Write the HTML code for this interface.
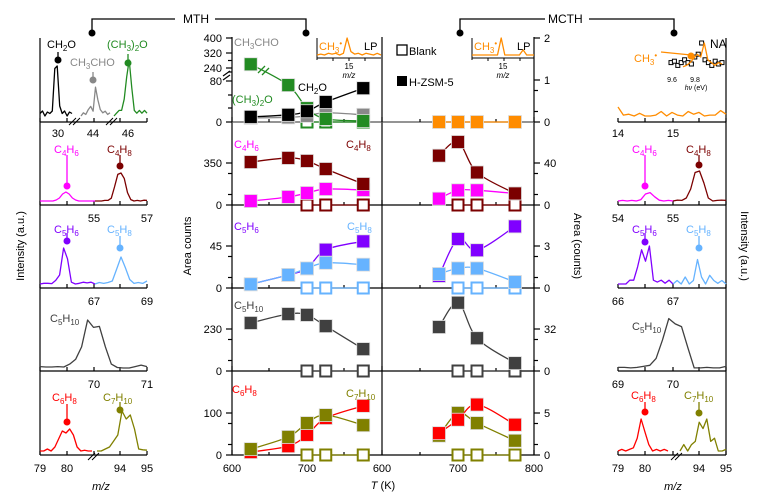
<!DOCTYPE html>
<html><head><meta charset="utf-8">
<style>
html,body{margin:0;padding:0;background:#fff;}
svg{display:block;font-family:"Liberation Sans",sans-serif;}
</style></head>
<body>
<svg id="fig" width="765" height="499" viewBox="0 0 765 499" xmlns="http://www.w3.org/2000/svg"></svg>
<script>
// ---------- DATA ----------
const tempsL=[625,675,700,725,775];
const tempsR=[675,700,725,775];
const tempsBlank=[700,725,775];
// MTH (left axis, Area counts)
const mthCH2O=[10,14,21,39,66];
const mthCH3CHO=[8,9,12,18,14];
const mthDME=[260,72,27,6,2];
const mthC4H8=[358,392,367,300,175];
const mthC4H6=[33,67,100,133,125];
const mthC5H6=[4,14,21,41,50];
const mthC5H8=[4,14,21,27,25];
const mthC5H10=[263,312,307,246,120];
const mthC6H8=[7,21,48,88,117];
const mthC7H10=[14,43,76,95,71];
// MCTH (right axis, Area counts)
const mcthCH3=[0,0,0,0];
const mcthC4H8=[47,60,31,11];
const mcthC4H6=[6,14,14,11];
const mcthC5H6=[0.86,3.5,2.7,4.4];
const mcthC5H8=[1.0,1.4,1.4,0.43];
const mcthC5H10=[33.5,52,25,6];
const mcthC6H8=[2.6,4.2,6.0,3.6];
const mcthC7H10=[2.3,5.0,3.8,1.7];
const blankVals=[0,0,0];
// axis ticks
const xTicksL=[600,700];
const xTicksR=[600,700,800];
const leftTickLabels=[["400","320","240","80","0"],["350","0"],["45","0"],["230","0"],["100","0"]];
const leftTickVals=[[400,320,240,80,0],[350,0],[45,0],[230,0],[100,0]];
const rightTickVals=[[2,1,0],[40,0],[3,0],[32,0],[5,0]];
// spectra intensities (relative)
const specL1a=[0.05,0.1,0.0,0.08,0.05,0.1,0.95,1,0.2,0.05,0.1,0.0,0.08,0.05];
const specL1b=[0,0.1,0.05,0.2,0.3,0.15,0.9,0.5,0.2,0.1,0.15,0.05,0.1];
const specL1c=[0,0.05,0.1,0.1,0.3,0.7,1,0.5,0.1,0.05,0.1,0.05,0.1,0.05];
const specL2a=[0,0,0,0,0,0.05,0.15,0.35,0.45,0.35,0.15,0.05,0,0,0,0,0,0];
const specL2b=[0,0,0,0.02,0.02,0.1,0.5,0.95,1,0.8,0.3,0.05,0,0.02,0,0.03,0.02];
const specL3a=[0,0.02,0.02,0.01,0.1,0.25,1,0.7,0.05,0,0.02,0.05,0.03,0.05,0];
const specL3b=[0,0.05,0.02,0.05,0.1,0.5,0.9,0.55,0.15,0.02,0.05,0.02,0.1];
const specL4=[0.05,0.04,0.04,0.05,0.04,0.1,0.2,0.45,1,0.85,0.87,0.45,0.1,0.03,0.02,0.02,0.05,0.08,0.05];
const specL5a=[0,0,0.05,0,0.1,0.3,0.5,0.45,0.55,0.4,0.1,0,0.02,0,0];
const specL5b=[0,0,0.05,0.1,0.25,0.4,1,0.8,0.9,0.55,0.05,0.03,0.02];
const specR1=[0.5,0.05,0.1,0,0.15,0,0,0.05,0.25,0,0.2,0.05,0,0.25,0.1,0.2,0,0.05,0.05,0.3,0.1];
const specR2a=[0,0.02,0,0.02,0,0.05,0.25,0.3,0.15,0.03,0,0.02,0];
const specR2b=[0,0.03,0.02,0.1,0.4,0.95,1,0.6,0.1,0,0.02,0.03,0.02];
const specR3a=[0,0,0,0.1,0.1,0.45,0.9,0.6,1,0.1,0.05,0.1,0.02,0.1,0];
const specR3b=[0,0.1,0,0.2,0,0.1,0.7,0.2,0,0.25,0.1,0.02,0.1,0];
const specR4=[0.03,0.03,0.02,0.03,0.05,0.07,0.2,0.55,0.95,0.85,0.8,0.4,0.02,0.02,0.03,0.02,0.02,0.05];
const specR5a=[0,0.05,0,0.05,0.1,0.4,1,0.6,0.2,0,0.05,0,0.05,0];
const specR5b=[0,0.2,0,0.2,0.3,0.9,0.7,1,0.3,0.4,0,0,0.05];
const lpL=[0,0.05,0,0.1,0.05,0.1,0,0.1,1,0.2,0.05,0.1,0,0.1,0.05,0,0.1,0];
const lpR=[0,0,0,0,0,0,0,0,1,0,0,0,0,0,0.3,0,0,0];
const naSquares=[0.3,0.35,0.2,0.3,0.4,0.3,0.25,0.5,0.6,1,0.4,0.3,0.2,0.35,0.25,0.3];
const naLine=[0.15,0.2,0.3,0.45,0.6,0.5,1,0.4,0.3,0.2,0.3,0.25];

// ---------- HELPERS ----------
const NS="http://www.w3.org/2000/svg";
const svg=document.getElementById('fig');
function mk(tag,attrs,parent){const e=document.createElementNS(NS,tag);for(const k in attrs)e.setAttribute(k,attrs[k]);(parent||svg).appendChild(e);return e;}
const Z=[122,205,288,371,455];
const scaleL=[80/41,350/42,45/42,230/42,100/42];
const scaleR=[1/42,40/42,3/42,32/42,5/42];
const xL=T=>232+(T-600)*0.75;
const xR=T=>382+(T-600)*0.76;
function yL(row,v){
  if(row===0){ if(v<=80) return 122-v*41/80; return 68-(v-240)*30/160; }
  return Z[row]-v/scaleL[row];
}
const yR=(row,v)=>Z[row]-v/scaleR[row];
function spline(pts,t){
  t=t||0.5;let d="M"+pts[0][0]+","+pts[0][1];
  for(let i=0;i<pts.length-1;i++){
    const p0=pts[i-1]||pts[i],p1=pts[i],p2=pts[i+1],p3=pts[i+2]||p2;
    const c1=[p1[0]+(p2[0]-p0[0])*t/3,p1[1]+(p2[1]-p0[1])*t/3];
    const c2=[p2[0]-(p3[0]-p1[0])*t/3,p2[1]-(p3[1]-p1[1])*t/3];
    d+=" C"+c1[0]+","+c1[1]+" "+c2[0]+","+c2[1]+" "+p2[0]+","+p2[1];
  }
  return d;
}
function text(x,y,str,opts,name){
  const e=mk('text',Object.assign({x:x,y:y,'font-size':11,fill:'#000'},opts||{}));
  e.innerHTML=str;
  
  
  return e;
}
function series(xs,vals,xf,yf,row,color,name){
  const g=mk('g',{});
  
  
  const pts=xs.map((T,i)=>[xf(T),yf(row,vals[i])]);
  const p=mk('path',{d:spline(pts),fill:'none',stroke:color,'stroke-width':1.3},g);
  
  
  pts.forEach(pt=>{
    const r=mk('rect',{x:pt[0]-6.5,y:pt[1]-6.5,width:13,height:13,fill:color,stroke:'#ddd','stroke-width':0.8},g);
    
    
  });
}
function blank(xs,xf,yf,row,color,name){
  const g=mk('g',{});
  
  
  const pts=xs.map((T,i)=>[xf(T),yf(row,blankVals[i])]);
  mk('path',{d:"M"+pts.map(p=>p.join(",")).join(" L"),fill:'none',stroke:color,'stroke-width':1.3},g);
  pts.forEach(pt=>{
    const r=mk('rect',{x:pt[0]-5.5,y:pt[1]-5.5,width:11,height:11,fill:'#fff',stroke:color,'stroke-width':2},g);
    
    
  });
}
function spec(x0,x1,base,amp,vals,color,name){
  const n=vals.length;
  const pts=vals.map((v,i)=>[(x0+(x1-x0)*i/(n-1)).toFixed(1),(base-amp*v).toFixed(1)]);
  const p=mk('polyline',{points:pts.map(p=>p.join(",")).join(" "),fill:'none',stroke:color,'stroke-width':1.3,'stroke-linejoin':'round'});
  
  
}
function marker(x,yTop,yDot,color,name){
  const g=mk('g',{});
  
  
  mk('line',{x1:x,y1:yTop,x2:x,y2:yDot,stroke:color,'stroke-width':1.3},g);
  mk('circle',{cx:x,cy:yDot,r:3.5,fill:color},g);
}

// ---------- BRACKETS ----------
const br=mk('g',{});


mk('path',{d:"M92,33 L92,19 L175,19 M215,19 L306,19 L306,33",fill:'none',stroke:'#000','stroke-width':1.3},br);
mk('circle',{cx:92,cy:33,r:3.5},br);mk('circle',{cx:306,cy:33,r:3.5},br);
text(183,23,"MTH",{'font-size':12},'mth-title');
const br2=mk('g',{});


mk('path',{d:"M460,33 L460,19 L545,19 M589,19 L674,19 L674,33",fill:'none',stroke:'#000','stroke-width':1.3},br2);
mk('circle',{cx:460,cy:33,r:3.5},br2);mk('circle',{cx:674,cy:33,r:3.5},br2);
text(548,23,"MCTH",{'font-size':12},'mcth-title');

// ---------- MIDDLE CHART FRAME ----------
const ax=mk('g',{stroke:'#000','stroke-width':1.2});


mk('line',{x1:232,y1:37,x2:232,y2:455},ax);
mk('line',{x1:382,y1:37,x2:382,y2:455},ax);
mk('line',{x1:534,y1:37,x2:534,y2:455},ax);
Z.forEach((z,i)=>mk('line',{x1:232,y1:z,x2:534,y2:z,stroke:i===0?'#555':'#000'},ax));
leftTickVals.forEach((arr,row)=>{
  arr.forEach((v,i)=>{
    const y=yL(row,v);
    mk('line',{x1:226,y1:y,x2:232,y2:y},ax);
    text(222,y+4,leftTickLabels[row][i],{'text-anchor':'end'},'y-tick-left');
  });
  if(row>0){[0.5,1.5].forEach(f=>{const y=Z[row]-f*21;mk('line',{x1:228,y1:y,x2:232,y2:y},ax);});}
});
[60.5,72,95,108].forEach(y=>mk('line',{x1:228,y1:y,x2:232,y2:y},ax));
mk('path',{d:"M223,76 L230,71 M223,80 L230,75",stroke:'#000',fill:'none'},ax);
rightTickVals.forEach((arr,row)=>{
  arr.forEach(v=>{
    const y=yR(row,v);
    mk('line',{x1:534,y1:y,x2:540,y2:y},ax);
    text(544,y+4,String(v),{},'y-tick-right');
  });
  [0.5,1.5].forEach(f=>{const y=Z[row]-f*21;mk('line',{x1:534,y1:y,x2:538,y2:y},ax);});
});
[232,306,382,458,534].forEach(x=>{Z.forEach(z=>{mk('line',{x1:x,y1:z,x2:x,y2:z-5},ax);});});
[269,344,420,496].forEach(x=>{Z.forEach(z=>mk('line',{x1:x,y1:z,x2:x,y2:z-3},ax));});
xTicksL.forEach(T=>text(xL(T),472,String(T),{'text-anchor':'middle'},'x-tick'));
xTicksR.forEach(T=>text(xR(T),472,String(T),{'text-anchor':'middle'},'x-tick'));
text(383,489,"<tspan font-style='italic'>T</tspan> (K)",{'text-anchor':'middle'},'x-axis-title');
text(0,0,"Area counts",{transform:'translate(191,246) rotate(-90)','text-anchor':'middle'},'y-axis-title-left');
text(0,0,"Area (counts)",{transform:'translate(574,246) rotate(90)','text-anchor':'middle'},'y-axis-title-right');
text(0,0,"Intensity (a.u.)",{transform:'translate(24,246) rotate(-90)','text-anchor':'middle'},'intensity-title-left');
text(0,0,"Intensity (a.u.)",{transform:'translate(741,246) rotate(90)','text-anchor':'middle'},'intensity-title-right');

// ---------- SERIES ----------
blank(tempsBlank,xL,yL,0,'#228b22','blank-dme-mth');
series(tempsL,mthCH3CHO,xL,yL,0,'#888','ch3cho-mth');
series(tempsL,mthDME,xL,yL,0,'#228b22','dme-mth');
series(tempsL,mthCH2O,xL,yL,0,'#000','ch2o-mth');
mk('path',{d:"M258,73 L265,66 M262,75 L269,68",stroke:'#228b22','stroke-width':1.3});
series(tempsR,mcthCH3,xR,yR,0,'#ff8c00','ch3-mcth');
blank(tempsBlank,xL,yL,1,'#7b0000','blank-c4-mth');
series(tempsL,mthC4H6,xL,yL,1,'#ff00ff','c4h6-mth');
series(tempsL,mthC4H8,xL,yL,1,'#7b0000','c4h8-mth');
blank(tempsBlank,xR,yR,1,'#7b0000','blank-c4-mcth');
series(tempsR,mcthC4H6,xR,yR,1,'#ff00ff','c4h6-mcth');
series(tempsR,mcthC4H8,xR,yR,1,'#7b0000','c4h8-mcth');
blank(tempsBlank,xL,yL,2,'#66b3ff','blank-c5-mth');
series(tempsL,mthC5H6,xL,yL,2,'#8000ff','c5h6-mth');
series(tempsL,mthC5H8,xL,yL,2,'#66b3ff','c5h8-mth');
blank(tempsBlank,xR,yR,2,'#66b3ff','blank-c5-mcth');
series(tempsR,mcthC5H6,xR,yR,2,'#8000ff','c5h6-mcth');
series(tempsR,mcthC5H8,xR,yR,2,'#66b3ff','c5h8-mcth');
blank(tempsBlank,xL,yL,3,'#404040','blank-c5h10-mth');
series(tempsL,mthC5H10,xL,yL,3,'#404040','c5h10-mth');
blank(tempsBlank,xR,yR,3,'#404040','blank-c5h10-mcth');
series(tempsR,mcthC5H10,xR,yR,3,'#404040','c5h10-mcth');
blank(tempsBlank,xL,yL,4,'#808000','blank-c67-mth');
series(tempsL,mthC6H8,xL,yL,4,'#ff0000','c6h8-mth');
series(tempsL,mthC7H10,xL,yL,4,'#808000','c7h10-mth');
blank(tempsBlank,xR,yR,4,'#808000','blank-c67-mcth');
series(tempsR,mcthC7H10,xR,yR,4,'#808000','c7h10-mcth');
series(tempsR,mcthC6H8,xR,yR,4,'#ff0000','c6h8-mcth');

text(234,46,"CH<tspan font-size='8' dy='3'>3</tspan><tspan dy='-3'>CHO</tspan>",{fill:'#888'},'label-ch3cho');
text(298,91,"CH<tspan font-size='8' dy='3'>2</tspan><tspan dy='-3'>O</tspan>",{},'label-ch2o');
text(232,103,"(CH<tspan font-size='8' dy='3'>3</tspan><tspan dy='-3'>)</tspan><tspan font-size='8' dy='3'>2</tspan><tspan dy='-3'>O</tspan>",{fill:'#228b22'},'label-dme');
text(234,148,"C<tspan font-size='8' dy='3'>4</tspan><tspan dy='-3'>H</tspan><tspan font-size='8' dy='3'>6</tspan>",{fill:'#ff00ff'},'label-c4h6');
text(346,148,"C<tspan font-size='8' dy='3'>4</tspan><tspan dy='-3'>H</tspan><tspan font-size='8' dy='3'>8</tspan>",{fill:'#7b0000'},'label-c4h8');
text(234,230,"C<tspan font-size='8' dy='3'>5</tspan><tspan dy='-3'>H</tspan><tspan font-size='8' dy='3'>6</tspan>",{fill:'#8000ff'},'label-c5h6');
text(347,230,"C<tspan font-size='8' dy='3'>5</tspan><tspan dy='-3'>H</tspan><tspan font-size='8' dy='3'>8</tspan>",{fill:'#66b3ff'},'label-c5h8');
text(234,309,"C<tspan font-size='8' dy='3'>5</tspan><tspan dy='-3'>H</tspan><tspan font-size='8' dy='3'>10</tspan>",{fill:'#404040'},'label-c5h10');
text(232,393,"C<tspan font-size='8' dy='3'>6</tspan><tspan dy='-3'>H</tspan><tspan font-size='8' dy='3'>8</tspan>",{fill:'#ff0000'},'label-c6h8');
text(346,397,"C<tspan font-size='8' dy='3'>7</tspan><tspan dy='-3'>H</tspan><tspan font-size='8' dy='3'>10</tspan>",{fill:'#808000'},'label-c7h10');

const lg=mk('g',{});


const lb=mk('rect',{x:397,y:45,width:10,height:10,fill:'#fff',stroke:'#000','stroke-width':1.3},lg);


text(409,55,"Blank",{},'legend-blank');
const lh=mk('rect',{x:397,y:76,width:10,height:10,fill:'#000'},lg);


text(409,86,"H-ZSM-5",{},'legend-hzsm5');

function lpInset(x0,x1,vals,peakX,name){
  const g=mk('g',{});
  
  
  mk('line',{x1:x0,y1:38,x2:x0,y2:60,stroke:'#000','stroke-width':1},g);
  mk('line',{x1:x0,y1:58,x2:x1,y2:58,stroke:'#000','stroke-width':1},g);
  [x0+16,x0+32,x0+48].forEach(x=>mk('line',{x1:x,y1:58,x2:x,y2:61,stroke:'#000'},g));
  spec(x0,x1,55,17,vals,'#ff8c00',name+'-trace');
  text(x0+2,50,"CH<tspan font-size='8' dy='3'>3</tspan><tspan font-size='8' dy='-7'>•</tspan>",{fill:'#ff8c00','font-size':11},name+'-label');
  text(x1-17,50,"LP",{'font-size':11},name+'-lp');
  text(peakX,69,"15",{'font-size':8,'text-anchor':'middle'},name+'-tick');
  text(peakX,78,"m/z",{'font-size':8,'font-style':'italic','text-anchor':'middle'},name+'-mz');
}
lpInset(317,381,lpL,349,'lp-inset-mth');
lpInset(472,534,lpR,503,'lp-inset-mcth');

// ---------- LEFT SPECTRA PANEL ----------
const sp=mk('g',{stroke:'#000','stroke-width':1.2});


mk('line',{x1:40,y1:38,x2:40,y2:455},sp);
Z.forEach(z=>mk('line',{x1:40,y1:z,x2:147,y2:z},sp));
[40,67,94,120,147].forEach(x=>Z.forEach(z=>mk('line',{x1:x,y1:z,x2:x,y2:z-4},sp)));
const sp2=mk('g',{stroke:'#000','stroke-width':1.2});


mk('line',{x1:726,y1:38,x2:726,y2:455},sp2);
Z.forEach(z=>mk('line',{x1:618,y1:z,x2:726,y2:z},sp2));
[618,645,673,699,726].forEach(x=>Z.forEach(z=>mk('line',{x1:x,y1:z,x2:x,y2:z-4},sp2)));

spec(40,72,116,50,specL1a,'#000','spec-ch2o');
spec(81,110,116,32,specL1b,'#888','spec-ch3cho');
spec(114,147,116,56,specL1c,'#228b22','spec-dme');
mk('path',{d:"M69,125 L76,118 M73,125 L80,118 M106,125 L113,118 M110,125 L117,118",stroke:'#000','stroke-width':1});
marker(58,52,60,'#000','marker-ch2o');marker(93,72,80,'#888','marker-ch3cho');marker(128,54,63,'#228b22','marker-dme');
text(47,48,"CH<tspan font-size='8' dy='3'>2</tspan><tspan dy='-3'>O</tspan>",{},'spec-label-ch2o');
text(70,66,"CH<tspan font-size='8' dy='3'>3</tspan><tspan dy='-3'>CHO</tspan>",{fill:'#888'},'spec-label-ch3cho');
text(107,48,"(CH<tspan font-size='8' dy='3'>3</tspan><tspan dy='-3'>)</tspan><tspan font-size='8' dy='3'>2</tspan><tspan dy='-3'>O</tspan>",{fill:'#228b22'},'spec-label-dme');
[[58,"30"],[93,"44"],[128,"46"]].forEach(a=>text(a[0],137,a[1],{'text-anchor':'middle'},'spec-tick'));

spec(40,95,201,20,specL2a,'#ff00ff','spec-c4h6');
spec(95,147,201,28,specL2b,'#7b0000','spec-c4h8');
marker(67,155,186,'#ff00ff','marker-c4h6');marker(120,155,166,'#7b0000','marker-c4h8');
text(54,153,"C<tspan font-size='8' dy='3'>4</tspan><tspan dy='-3'>H</tspan><tspan font-size='8' dy='3'>6</tspan>",{fill:'#ff00ff'},'spec-label-c4h6');
text(107,153,"C<tspan font-size='8' dy='3'>4</tspan><tspan dy='-3'>H</tspan><tspan font-size='8' dy='3'>8</tspan>",{fill:'#7b0000'},'spec-label-c4h8');
text(94,222,"55",{'text-anchor':'middle'},'spec-tick');text(147,222,"57",{'text-anchor':'middle'},'spec-tick');

spec(40,95,284,36,specL3a,'#8000ff','spec-c5h6');
spec(95,147,284,30,specL3b,'#66b3ff','spec-c5h8');
marker(67,233,241,'#8000ff','marker-c5h6');marker(120,236,248,'#66b3ff','marker-c5h8');
text(54,233,"C<tspan font-size='8' dy='3'>5</tspan><tspan dy='-3'>H</tspan><tspan font-size='8' dy='3'>6</tspan>",{fill:'#8000ff'},'spec-label-c5h6');
text(107,233,"C<tspan font-size='8' dy='3'>5</tspan><tspan dy='-3'>H</tspan><tspan font-size='8' dy='3'>8</tspan>",{fill:'#66b3ff'},'spec-label-c5h8');
text(94,305,"67",{'text-anchor':'middle'},'spec-tick');text(147,305,"69",{'text-anchor':'middle'},'spec-tick');

spec(40,147,369,49,specL4,'#404040','spec-c5h10');
text(50,322,"C<tspan font-size='8' dy='3'>5</tspan><tspan dy='-3'>H</tspan><tspan font-size='8' dy='3'>10</tspan>",{fill:'#404040'},'spec-label-c5h10');
text(94,388,"70",{'text-anchor':'middle'},'spec-tick');text(147,388,"71",{'text-anchor':'middle'},'spec-tick');

spec(40,92,451,40,specL5a,'#ff0000','spec-c6h8');
spec(97,147,451,40,specL5b,'#808000','spec-c7h10');
mk('path',{d:"M88,460 L95,453 M92,460 L99,453",stroke:'#000','stroke-width':1});
marker(67,404,422,'#ff0000','marker-c6h8');marker(120,402,410,'#808000','marker-c7h10');
text(52,401,"C<tspan font-size='8' dy='3'>6</tspan><tspan dy='-3'>H</tspan><tspan font-size='8' dy='3'>8</tspan>",{fill:'#ff0000'},'spec-label-c6h8');
text(103,401,"C<tspan font-size='8' dy='3'>7</tspan><tspan dy='-3'>H</tspan><tspan font-size='8' dy='3'>10</tspan>",{fill:'#808000'},'spec-label-c7h10');
[[40,"79"],[67,"80"],[120,"94"],[147,"95"]].forEach(a=>text(a[0],472,a[1],{'text-anchor':'middle'},'spec-tick'));
text(101,490,"m/z",{'font-style':'italic','text-anchor':'middle'},'mz-title-left');

// ---------- RIGHT SPECTRA PANEL ----------
spec(618,726,116,18,specR1,'#ff8c00','spec-ch3-mcth');
[[618,"14"],[673,"15"]].forEach(a=>text(a[0],137,a[1],{'text-anchor':'middle'},'spec-tick'));
const na=mk('g',{});


naSquares.forEach((v,i)=>{
  const x=671+i*3.4,y=71-v*28;
  const r=mk('rect',{x:x-2,y:y-2,width:4,height:4,fill:'#fff',stroke:'#000','stroke-width':1},na);
  
  
});
spec(683,722,71,28,naLine,'#ff8c00','na-trace');
text(710,48,"NA",{'font-size':12},'na-label');
text(672,82,"9.6",{'font-size':7,'text-anchor':'middle'},'na-tick');
text(695,82,"9.8",{'font-size':7,'text-anchor':'middle'},'na-tick');
text(696,90,"<tspan font-style='italic'>hν</tspan> (eV)",{'font-size':7,'text-anchor':'middle'},'na-axis-title');
mk('line',{x1:661,y1:52,x2:691,y2:55,stroke:'#ff8c00','stroke-width':1.3});
mk('circle',{cx:691,cy:56,r:3.5,fill:'#ff8c00'});
text(634,62,"CH<tspan font-size='8' dy='3'>3</tspan><tspan font-size='8' dy='-7'>•</tspan>",{fill:'#ff8c00'},'label-ch3-radical');

spec(618,673,201,28,specR2a,'#ff00ff','spec-c4h6-mcth');
spec(673,726,201,30,specR2b,'#7b0000','spec-c4h8-mcth');
marker(645,155,186,'#ff00ff','marker-c4h6-mcth');marker(699,155,165,'#7b0000','marker-c4h8-mcth');
text(632,153,"C<tspan font-size='8' dy='3'>4</tspan><tspan dy='-3'>H</tspan><tspan font-size='8' dy='3'>6</tspan>",{fill:'#ff00ff'},'spec-label');
text(686,153,"C<tspan font-size='8' dy='3'>4</tspan><tspan dy='-3'>H</tspan><tspan font-size='8' dy='3'>8</tspan>",{fill:'#7b0000'},'spec-label');
[[618,"54"],[673,"55"]].forEach(a=>text(a[0],222,a[1],{'text-anchor':'middle'},'spec-tick'));

spec(618,673,284,38,specR3a,'#8000ff','spec-c5h6-mcth');
spec(673,726,284,35,specR3b,'#66b3ff','spec-c5h8-mcth');
marker(645,233,242,'#8000ff','marker-c5h6-mcth');marker(699,236,248,'#66b3ff','marker-c5h8-mcth');
text(632,233,"C<tspan font-size='8' dy='3'>5</tspan><tspan dy='-3'>H</tspan><tspan font-size='8' dy='3'>6</tspan>",{fill:'#8000ff'},'spec-label');
text(686,233,"C<tspan font-size='8' dy='3'>5</tspan><tspan dy='-3'>H</tspan><tspan font-size='8' dy='3'>8</tspan>",{fill:'#66b3ff'},'spec-label');
[[618,"66"],[673,"67"]].forEach(a=>text(a[0],305,a[1],{'text-anchor':'middle'},'spec-tick'));

spec(618,726,369,53,specR4,'#404040','spec-c5h10-mcth');
text(632,330,"C<tspan font-size='8' dy='3'>5</tspan><tspan dy='-3'>H</tspan><tspan font-size='8' dy='3'>10</tspan>",{fill:'#404040'},'spec-label');
[[618,"69"],[673,"70"]].forEach(a=>text(a[0],388,a[1],{'text-anchor':'middle'},'spec-tick'));

spec(618,668,451,32,specR5a,'#ff0000','spec-c6h8-mcth');
spec(680,726,451,32,specR5b,'#808000','spec-c7h10-mcth');
mk('path',{d:"M671,460 L678,453 M675,460 L682,453",stroke:'#000','stroke-width':1});
marker(645,402,412,'#ff0000','marker-c6h8-mcth');marker(699,402,413,'#808000','marker-c7h10-mcth');
text(631,399,"C<tspan font-size='8' dy='3'>6</tspan><tspan dy='-3'>H</tspan><tspan font-size='8' dy='3'>8</tspan>",{fill:'#ff0000'},'spec-label');
text(684,399,"C<tspan font-size='8' dy='3'>7</tspan><tspan dy='-3'>H</tspan><tspan font-size='8' dy='3'>10</tspan>",{fill:'#808000'},'spec-label');
[[618,"79"],[645,"80"],[699,"94"],[726,"95"]].forEach(a=>text(a[0],472,a[1],{'text-anchor':'middle'},'spec-tick'));
text(673,490,"m/z",{'font-style':'italic','text-anchor':'middle'},'mz-title-right');
</script>
</body></html>
